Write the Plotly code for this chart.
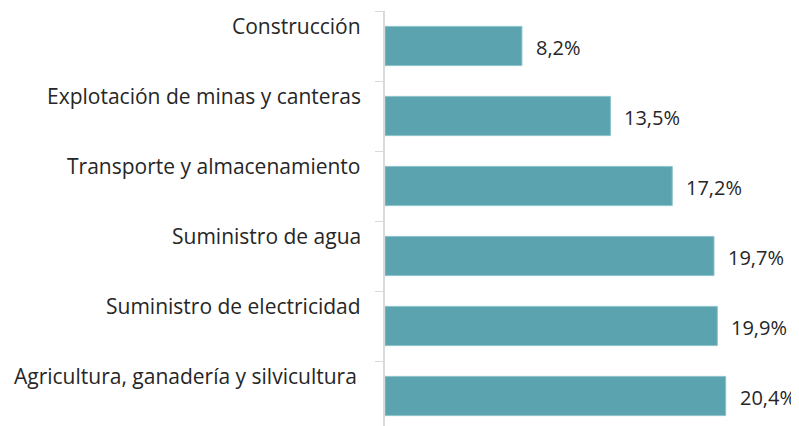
import plotly.graph_objects as go

categories = [
    "Construcción",
    "Explotación de minas y canteras",
    "Transporte y almacenamiento",
    "Suministro de agua",
    "Suministro de electricidad",
    "Agricultura, ganadería y silvicultura",
]
values = [8.2, 13.5, 17.2, 19.7, 19.9, 20.4]

# bottom-to-top order for plotting
cats_plot = categories[::-1]
vals_plot = values[::-1]

BAR_COLOR = "#5ba3af"
TEXT_COLOR = "#262626"
FONT = "Open Sans"
FS = 21

fig = go.Figure()
fig.add_trace(go.Bar(
    x=vals_plot,
    y=cats_plot,
    orientation="h",
    marker=dict(color=BAR_COLOR, line=dict(color="#8cc3cc", width=1)),
    hoverinfo="skip",
))

annotations = []
for c, v in zip(cats_plot, vals_plot):
    annotations.append(dict(
        x=v, y=c, xref="x", yref="y",
        text=f"{v:.1f}%".replace(".", ","),
        showarrow=False, xanchor="left", yanchor="middle",
        xshift=12, yshift=-1,
        font=dict(family=FONT, size=20, color=TEXT_COLOR),
    ))
    annotations.append(dict(
        x=0, y=c, xref="paper", yref="y",
        text=c,
        showarrow=False, xanchor="right", yanchor="middle",
        xshift=-22 if not c.startswith("Agricultura") else -26, yshift=20,
        font=dict(family=FONT, size=FS, color=TEXT_COLOR),
    ))

fig.update_layout(
    width=791, height=418,
    margin=dict(l=377, r=0, t=3, b=0),
    paper_bgcolor="white", plot_bgcolor="white",
    showlegend=False,
    bargap=0.44,
    annotations=annotations,
    xaxis=dict(range=[0, 414 / 16.7], visible=False, fixedrange=True),
    yaxis=dict(
        type="category",
        categoryorder="array", categoryarray=cats_plot,
        range=[-0.5 + 5 / 70, 5.5],
        showticklabels=False,
        showline=True, linecolor="#d9d9d9", linewidth=1.5,
        ticks="outside", tickson="boundaries", ticklen=8, tickcolor="#d9d9d9",
        showgrid=False, zeroline=False, fixedrange=True,
    ),
)

fig.write_html("out.html")
